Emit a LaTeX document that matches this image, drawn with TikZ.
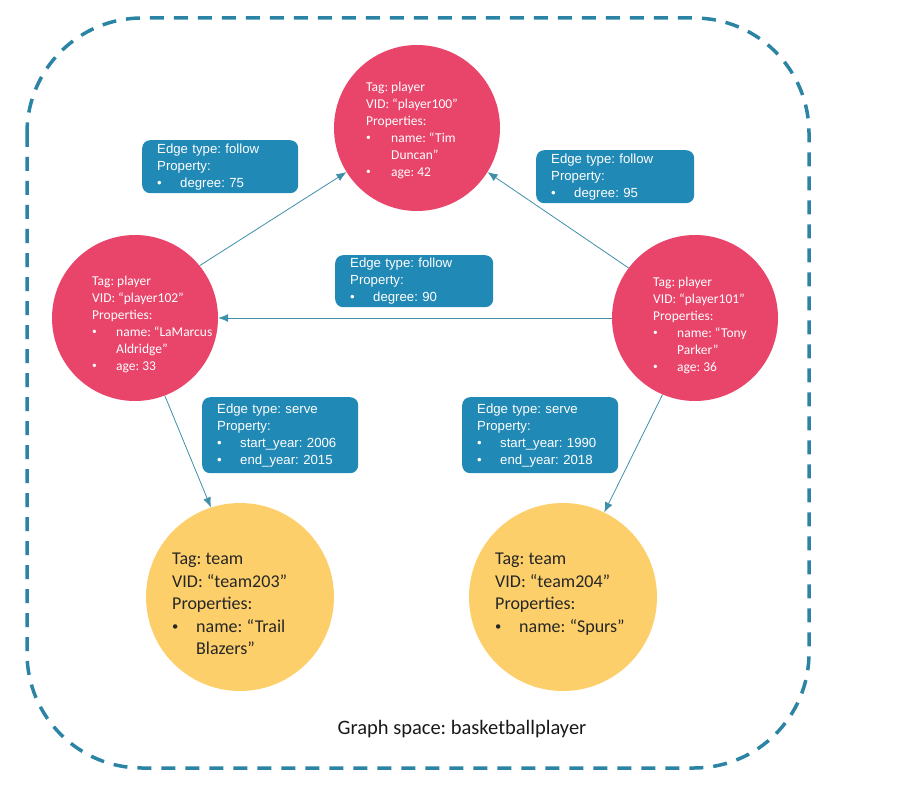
\documentclass[tikz,border=0pt]{standalone}
\usepackage{fontspec}
\usepackage{graphicx}
\setmainfont{Carlito}
\newfontfamily\boxfont{Liberation Sans}
\usetikzlibrary{arrows.meta}
\definecolor{pinkc}{HTML}{E9446A}
\definecolor{yellowc}{HTML}{FCCF6A}
\definecolor{boxblue}{HTML}{2189B5}
\definecolor{bordert}{HTML}{2B84A3}
\definecolor{arrowc}{HTML}{3F8FA9}
\tikzset{
  player/.style={circle, fill=pinkc, draw=none, minimum size=166pt, inner sep=0pt},
  team/.style={circle, fill=yellowc, draw=none, minimum size=188pt, inner sep=0pt},
  ptext/.style={anchor=north west, inner sep=0pt, align=left, text=white,
    font=\fontsize{13.5pt}{17pt}\selectfont},
  ttext/.style={anchor=north west, inner sep=0pt, align=left, text=black!85,
    font=\fontsize{18pt}{22.5pt}\selectfont},
  ebox/.style={anchor=north west, rectangle, rounded corners=8pt, fill=boxblue, text=white,
    align=left, inner xsep=15pt, inner ysep=0pt, minimum height=#1,
    font=\boxfont\fontsize{13.2pt}{17pt}\selectfont},
  arr/.style={draw=arrowc, line width=0.8pt, -{Latex[length=10pt,width=8pt]}},
  frame/.style={draw=bordert, line width=3.5pt, dash pattern=on 14pt off 10pt, rounded corners=115pt}
}
\newcommand{\smbul}{\raisebox{0.12em}{\scalebox{0.7}{•}}}
\newcommand{\pb}{\makebox[25pt][l]{\smbul}}
\newcommand{\pbi}{\hspace*{25pt}}
\newcommand{\qb}{\makebox[24pt][l]{\smbul}}
\newcommand{\bb}{\makebox[23pt][l]{•}}
\begin{document}
\frenchspacing
\begin{tikzpicture}[x=1pt,y=-1pt]
\useasboundingbox (0,0) rectangle (901,794);
\draw[frame] (27,18) rectangle (809,768);

% vertices
\node[player] (p100) at (417,128) {};
\node[player] (p102) at (135,318) {};
\node[player] (p101) at (695,318) {};
\node[team] (t203) at (240,597) {};
\node[team] (t204) at (563,597) {};

\node[ptext] (p100t) at (366,82) {Tag: player\\VID: “player100”\\Properties:\\\pb name: “Tim\\\pbi Duncan”\\\pb age: 42};
\node[ptext] (p102t) at (92,276) {Tag: player\\VID: “player102”\\Properties:\\\qb name: “LaMarcus\\\hspace*{24pt}Aldridge”\\\qb age: 33};
\node[ptext] (p101t) at (653,277) {Tag: player\\VID: “player101”\\Properties:\\\qb name: “Tony\\\hspace*{24pt}Parker”\\\qb age: 36};
\node[ttext] (t203t) at (172,553) {Tag: team\\VID: “team203”\\Properties:\\\qb name: “Trail\\\hspace*{24pt}Blazers”};
\node[ttext] (t204t) at (495,553) {Tag: team\\VID: “team204”\\Properties:\\\qb name: “Spurs”};

% edges
\draw[arr] (p102.39) -- (p100.212);
\draw[arr] (p101.143) -- (p100.328);
\draw[arr] (p101) -- (p102);
\draw[arr] (p102.291) -- (t203.108);
\draw[arr] (p101.247) -- (t204.64);

% edge property boxes
\node[ebox=53pt, text width=126pt] (e75) at (142,140) {Edge type: follow\\Property:\\\bb degree: 75};
\node[ebox=53pt, text width=128pt] (e95) at (536,150) {Edge type: follow\\Property:\\\bb degree: 95};
\node[ebox=52pt, text width=128pt] (e90) at (335,255) {Edge type: follow\\Property:\\\bb degree: 90};
\node[ebox=76pt, text width=126pt] (e2006) at (202,397) {Edge type: serve\\Property:\\\bb start\_year: 2006\\\bb end\_year: 2015};
\node[ebox=76pt, text width=126pt] (e1990) at (462,397) {Edge type: serve\\Property:\\\bb start\_year: 1990\\\bb end\_year: 2018};

\node[font=\fontsize{20.5pt}{24pt}\selectfont, text=black!90] (gs) at (462,729) {Graph space: basketballplayer};
\end{tikzpicture}
\end{document}
